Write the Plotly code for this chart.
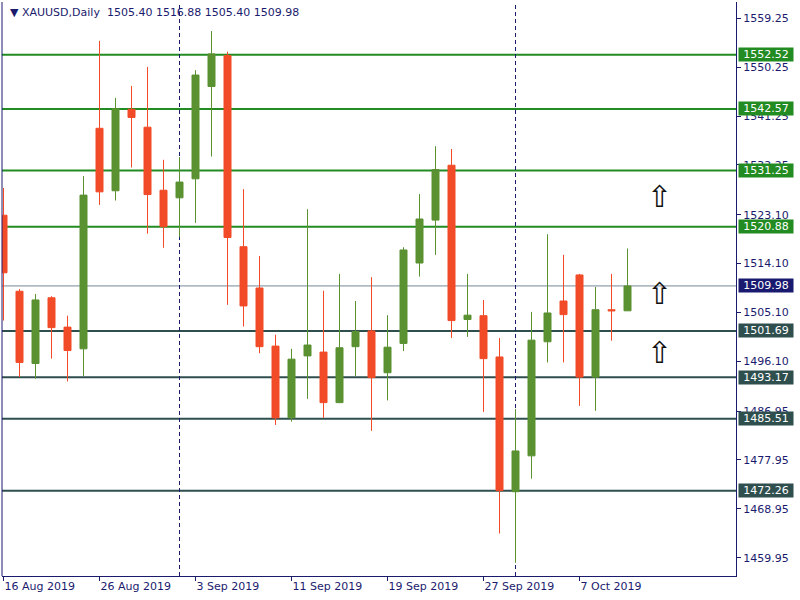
import plotly.graph_objects as go

# ---- data ----
dates = ["16 Aug 2019", "19 Aug 2019", "20 Aug 2019", "21 Aug 2019", "22 Aug 2019", "23 Aug 2019",
         "26 Aug 2019", "27 Aug 2019", "28 Aug 2019", "29 Aug 2019", "30 Aug 2019",
         "2 Sep 2019", "3 Sep 2019", "4 Sep 2019", "5 Sep 2019", "6 Sep 2019",
         "9 Sep 2019", "10 Sep 2019", "11 Sep 2019", "12 Sep 2019", "13 Sep 2019",
         "16 Sep 2019", "17 Sep 2019", "18 Sep 2019", "19 Sep 2019", "20 Sep 2019",
         "23 Sep 2019", "24 Sep 2019", "25 Sep 2019", "26 Sep 2019", "27 Sep 2019",
         "30 Sep 2019", "1 Oct 2019", "2 Oct 2019", "3 Oct 2019", "4 Oct 2019",
         "7 Oct 2019", "8 Oct 2019", "9 Oct 2019", "10 Oct 2019"]
opens = [1523.0, 1509.0, 1495.7, 1507.8, 1502.4, 1498.4,
         1539.0, 1527.5, 1542.5, 1539.2, 1527.6,
         1526.2, 1529.7, 1546.7, 1552.4, 1517.2,
         1509.6, 1498.9, 1485.7, 1497.1, 1497.8,
         1488.5, 1498.8, 1501.7, 1494.0, 1499.4,
         1514.2, 1522.1, 1532.2, 1503.8, 1504.5,
         1496.9, 1472.1, 1478.7, 1499.7, 1507.2,
         1512.0, 1493.2, 1505.6, 1505.40]
highs = [1528.0, 1509.4, 1508.5, 1508.1, 1504.5, 1530.2,
         1555.1, 1544.6, 1546.8, 1550.3, 1533.2,
         1533.7, 1549.7, 1556.9, 1553.1, 1527.8,
         1515.5, 1501.0, 1498.4, 1524.1, 1509.1,
         1512.2, 1507.2, 1511.6, 1504.6, 1517.1,
         1526.9, 1535.7, 1535.2, 1512.2, 1507.4,
         1500.4, 1487.3, 1505.2, 1519.5, 1515.7,
         1512.2, 1509.8, 1512.2, 1516.88]
lows = [1503.6, 1493.2, 1492.9, 1496.6, 1492.4, 1493.4,
        1524.9, 1525.7, 1531.8, 1519.6, 1517.0,
        1519.0, 1521.6, 1533.8, 1506.5, 1502.5,
        1497.6, 1484.4, 1485.0, 1489.2, 1485.7,
        1488.4, 1493.4, 1483.3, 1488.9, 1498.0,
        1511.7, 1515.7, 1500.4, 1500.6, 1486.8,
        1464.4, 1459.0, 1474.5, 1495.9, 1495.9,
        1487.9, 1487.0, 1499.9, 1505.40]
closes = [1512.4, 1495.9, 1507.4, 1502.3, 1498.1, 1526.7,
          1527.3, 1542.6, 1541.0, 1526.8, 1520.9,
          1529.1, 1548.8, 1552.7, 1518.9, 1506.3,
          1498.8, 1485.7, 1496.5, 1499.1, 1488.5,
          1498.6, 1501.6, 1493.1, 1498.7, 1516.6,
          1522.3, 1531.4, 1503.6, 1504.6, 1496.6,
          1472.3, 1479.6, 1500.0, 1505.0, 1504.7,
          1493.2, 1505.6, 1505.4, 1509.98]

resistance_levels = [1552.52, 1542.57, 1531.25, 1520.88]
support_levels = [1501.69, 1493.17, 1485.51, 1472.26]
current_price = 1509.98

price_ticks = [1559.25, 1550.25, 1541.25, 1532.25, 1523.10, 1514.10,
               1505.10, 1496.10, 1486.95, 1477.95, 1468.95, 1459.95]
date_tick_labels = ["16 Aug 2019", "26 Aug 2019", "3 Sep 2019", "11 Sep 2019",
                    "19 Sep 2019", "27 Sep 2019", "7 Oct 2019"]
month_starts = ["2 Sep 2019", "1 Oct 2019"]
arrow_prices = [1526.4, 1508.6, 1497.8]
arrow_bar_offset = 2  # bars after last candle

# ---- styles ----
NAVY = "#1b1b6e"
GREEN_C = "#5a9131"
RED_C = "#f24b28"
RES_COL = "#228b22"
SUP_COL = "#2f4f4f"
CUR_COL = "#778899"
CUR_BG = "#191970"
FONT = "DejaVu Sans"

idx = list(range(len(dates)))

fig = go.Figure()
fig.add_trace(go.Candlestick(
    x=idx, open=opens, high=highs, low=lows, close=closes,
    increasing=dict(line=dict(color=GREEN_C, width=1), fillcolor=GREEN_C),
    decreasing=dict(line=dict(color=RED_C, width=1), fillcolor=RED_C),
    whiskerwidth=0, showlegend=False, hoverinfo="skip",
))

shapes = []
annotations = []


def level_label(lv, bg):
    return dict(xref="paper", x=1, xanchor="left", xshift=2, yref="y", y=lv,
                yanchor="middle", text=f"{lv:.2f}", showarrow=False,
                bgcolor=bg, font=dict(family=FONT, size=11, color="#ffffff"),
                borderpad=1, width=52, height=11)


for lv in resistance_levels:
    shapes.append(dict(type="line", xref="paper", x0=0, x1=1, yref="y", y0=lv, y1=lv,
                       line=dict(color=RES_COL, width=2), layer="below"))
    annotations.append(level_label(lv, RES_COL))
for lv in support_levels:
    shapes.append(dict(type="line", xref="paper", x0=0, x1=1, yref="y", y0=lv, y1=lv,
                       line=dict(color=SUP_COL, width=2), layer="below"))
    annotations.append(level_label(lv, SUP_COL))
shapes.append(dict(type="line", xref="paper", x0=0, x1=1, yref="y", y0=current_price, y1=current_price,
                   line=dict(color=CUR_COL, width=1), layer="below"))
annotations.append(level_label(current_price, CUR_BG))

for d in month_starts:
    i = dates.index(d)
    shapes.append(dict(type="line", xref="x", x0=i, x1=i, yref="paper", y0=0, y1=1,
                       line=dict(color=NAVY, width=1, dash="4px,3px"), layer="below"))

# left frame line
shapes.append(dict(type="line", xref="paper", x0=0, x1=0, yref="paper", y0=0, y1=1,
                   line=dict(color=NAVY, width=1)))

for p in arrow_prices:
    annotations.append(dict(xref="x", x=len(dates) - 1 + arrow_bar_offset, yref="y", y=p,
                            text="\u21e7", showarrow=False,
                            font=dict(family=FONT, size=30, color="#111111")))

header = ("\u25bc XAUUSD,Daily\u00a0\u00a0" +
          f"{opens[-1]:.2f} {highs[-1]:.2f} {lows[-1]:.2f} {closes[-1]:.2f}")
annotations.append(dict(xref="paper", x=0, xanchor="left", xshift=6, yref="paper", y=1,
                        yanchor="top", yshift=-2, text=header, showarrow=False,
                        font=dict(family=FONT, size=11, color=NAVY)))

tickvals_x = [dates.index(d) for d in date_tick_labels]

fig.update_layout(
    width=800, height=600,
    margin=dict(l=2, r=64, t=2, b=24, autoexpand=False),
    paper_bgcolor="#ffffff", plot_bgcolor="#ffffff",
    boxgap=0.375,
    shapes=shapes, annotations=annotations,
    xaxis=dict(type="linear", range=[-0.09375, 45.78125], rangeslider=dict(visible=False),
               automargin=False,
               tickvals=tickvals_x, ticktext=date_tick_labels,
               ticks="outside", ticklen=4, tickcolor=NAVY,
               ticklabelposition="outside right",
               showline=True, linecolor=NAVY, linewidth=1,
               showgrid=False, zeroline=False,
               tickfont=dict(family=FONT, size=11, color=NAVY)),
    yaxis=dict(side="right", range=[1456.58, 1562.25], automargin=False,
               tickvals=price_ticks, ticktext=[f"{v:.2f}" for v in price_ticks],
               ticks="outside", ticklen=4, tickcolor=NAVY,
               showline=True, linecolor=NAVY, linewidth=1,
               showgrid=False, zeroline=False,
               tickfont=dict(family=FONT, size=11, color=NAVY)),
)

fig.write_html("out.html", config={"displayModeBar": False},
               post_script="document.body.style.margin='0px';document.body.style.overflow='hidden';")
